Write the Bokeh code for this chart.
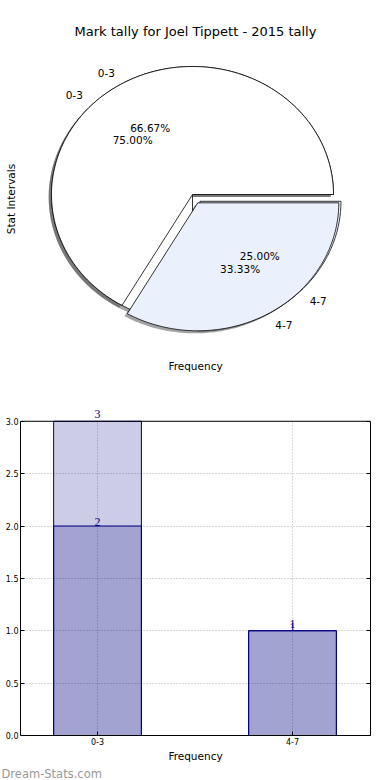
import numpy as np
from bokeh.plotting import figure
from bokeh.models import (Range1d, ColumnDataSource, LabelSet, FixedTicker,
                          LinearAxis, Title, PrintfTickFormatter, Span)
from bokeh.layouts import column
from bokeh.embed import file_html
from bokeh.resources import INLINE
from bokeh.core.properties import value

# ---------------- data ----------------
categories = ["0-3", "4-7"]
tally_a = [3, 1]          # first (lower) pie / lighter bar series
tally_b = [2, 1]          # second (upper) pie / overlaid bar series
y_ticks = [0.0, 0.5, 1.0, 1.5, 2.0, 2.5, 3.0]
title_text = "Mark tally for Joel Tippett - 2015 tally"
pie_ylabel = "Stat Intervals"
pie_xlabel = "Frequency"
bar_xlabel = "Frequency"
watermark = "Dream-Stats.com"

FONT = value("DejaVu Sans")
W = 390
BL, BR = 20, 20           # left / right borders shared by both figures

# ---------------- pie figure (page y 0 .. 375) ----------------
H1 = 375
FT, FB = 45, 352          # frame top / bottom in page px
CX, CY = 192, 194         # page px of pie centre
RX, RY = 141, 128         # px per unit radius


def dx(px):
    return (px - CX) / RX


def dy(py):
    return (CY - py) / RY


p1 = figure(width=W, height=H1,
            x_range=Range1d(dx(BL), dx(W - BR)),
            y_range=Range1d(dy(FB), dy(FT)), output_backend="svg",
            toolbar_location=None, min_border_left=BL, min_border_right=BR,
            min_border_top=FT, min_border_bottom=H1 - FB)
p1.grid.visible = False
p1.outline_line_color = None
p1.title.text = title_text
p1.title.align = "center"
p1.title.text_font = "DejaVu Sans"
p1.title.text_font_size = "13px"
p1.title.text_font_style = "normal"
p1.title.text_color = "black"
p1.title.standoff = 14
for ax, lab in ((p1.xaxis[0], pie_xlabel), (p1.yaxis[0], pie_ylabel)):
    ax.ticker = FixedTicker(ticks=[])
    ax.axis_line_color = None
    ax.major_tick_line_color = None
    ax.minor_tick_line_color = None
    ax.major_label_standoff = 0
    ax.axis_label = lab
    ax.axis_label_text_font = "DejaVu Sans"
    ax.axis_label_text_font_size = "10.5px"
    ax.axis_label_text_font_style = "normal"
    ax.axis_label_text_color = "black"
p1.xaxis.axis_label_standoff = 7
p1.yaxis.axis_label_standoff = 4

explode = [0.0, 0.075]
pie_colors = [(255, 255, 255), (235, 240, 253)]


def wedges(vals):
    total = float(sum(vals))
    out = []
    start = 0.0
    for v, e in zip(vals, explode):
        frac = v / total
        t1, t2 = start, start + 2 * np.pi * frac
        mid = (t1 + t2) / 2
        ox, oy = e * np.cos(mid), e * np.sin(mid)
        t = np.linspace(t1, t2, 160)
        xs = np.concatenate([[ox], ox + np.cos(t)])
        ys = np.concatenate([[oy], oy + np.sin(t)])
        out.append(dict(xs=xs, ys=ys, mid=mid, ox=ox, oy=oy, frac=frac))
        start = t2
    return out


pies = [wedges(tally_a), wedges(tally_b)]

# shadows
for pie in pies:
    for w, c in zip(pie, pie_colors):
        sc = "#%02x%02x%02x" % tuple(int(0.3 * k) for k in c)
        p1.patch(w["xs"] - 0.02, w["ys"] - 0.02, fill_color=sc, fill_alpha=0.5,
                 line_color=None)
# wedges
for pie in pies:
    for w, c in zip(pie, pie_colors):
        p1.patch(w["xs"], w["ys"], fill_color="#%02x%02x%02x" % c,
                 line_color="black", line_width=0.8)
# texts
for pie in pies:
    for w, cat in zip(pie, categories):
        lx = w["ox"] + 1.1 * np.cos(w["mid"])
        ly = w["oy"] + 1.1 * np.sin(w["mid"])
        p1.text([lx], [ly], text=[cat], text_font=FONT, text_font_size="10.5px",
                text_align="left" if lx > 0 else "right", text_baseline="middle",
                text_color="black")
        qx = w["ox"] + 0.6 * np.cos(w["mid"])
        qy = w["oy"] + 0.6 * np.sin(w["mid"])
        p1.text([qx], [qy], text=["%.2f%%" % (w["frac"] * 100)], text_font=FONT,
                text_font_size="10.5px", text_align="center",
                text_baseline="middle", text_color="black")

# ---------------- bar figure (page y 375 .. 780) ----------------
H2 = 780 - H1
TOP3, ZERO = 421, 737     # page y of value 3.0 and 0.0
FT2 = H1 + 5
ppu = (ZERO - TOP3) / 3.0
xpos = list(range(len(categories)))
p2 = figure(width=W, height=H2, x_range=Range1d(-0.395, 1.4),
            y_range=Range1d(0, 3 + (TOP3 - FT2) / ppu),
            output_backend="svg", toolbar_location=None,
            min_border_left=BL, min_border_right=BR, min_border_top=FT2 - H1,
            min_border_bottom=780 - ZERO)
p2.outline_line_color = None

# vertical dotted grid lines at the categories
p2.segment(x0=xpos, y0=[0] * len(xpos), x1=xpos, y1=[max(y_ticks)] * len(xpos),
           line_color="#b0b0b0", line_dash="1 2", line_width=1)

for vals, off in ((tally_a, 3), (tally_b, 0)):
    src = ColumnDataSource(dict(x=xpos, top=vals, lab=[str(v) for v in vals]))
    p2.vbar(x="x", top="top", width=0.45, source=src, fill_color="navy",
            fill_alpha=0.2, line_color="navy", line_width=1)
    p2.add_layout(LabelSet(x="x", y="top", text="lab", source=src,
                           text_align="center", text_baseline="bottom",
                           y_offset=off, text_color="navy",
                           text_font_size="12px", text_font="DejaVu Sans"))

p2.add_layout(Span(location=max(y_ticks), dimension="width", line_color="black",
                   line_width=1))

xt = FixedTicker(ticks=xpos)
yt = FixedTicker(ticks=y_ticks)
p2.xaxis.ticker = xt
p2.xaxis.major_label_overrides = {i: c for i, c in enumerate(categories)}
p2.yaxis.ticker = yt
p2.yaxis.formatter = PrintfTickFormatter(format="%.1f")
p2.yaxis.bounds = (0, max(y_ticks))
for ax in (p2.xaxis[0], p2.yaxis[0]):
    ax.major_tick_in = 4
    ax.major_tick_out = 0
    ax.minor_tick_line_color = None
    ax.axis_line_color = "black"
    ax.major_tick_line_color = "black"
    ax.major_label_text_font = "DejaVu Sans"
    ax.major_label_text_font_size = "8px"
    ax.major_label_text_color = "black"
    ax.major_label_standoff = 2
p2.xaxis.axis_label = bar_xlabel
p2.xaxis.axis_label_text_font = "DejaVu Sans"
p2.xaxis.axis_label_text_font_size = "10.5px"
p2.xaxis.axis_label_text_font_style = "normal"
p2.xaxis.axis_label_text_color = "black"
p2.xaxis.axis_label_standoff = 2

ra = LinearAxis(ticker=yt, major_tick_in=4, major_tick_out=0,
                minor_tick_line_color=None, axis_line_color="black",
                major_label_text_font_size="0px", major_label_standoff=0,
                bounds=(0, max(y_ticks)))
p2.add_layout(ra, "right")

p2.xgrid.visible = False
p2.ygrid.ticker = yt
p2.ygrid.grid_line_color = "#b0b0b0"
p2.ygrid.grid_line_dash = "1 2"
p2.ygrid.grid_line_width = 1

p2.add_layout(Title(text=watermark, align="left", text_color="#999999",
                    text_font_size="11.5px", text_font_style="normal",
                    text_font="DejaVu Sans", offset=-19, standoff=0), "below")

layout = column(p1, p2)
open("out.html", "w").write(file_html(layout, INLINE))
